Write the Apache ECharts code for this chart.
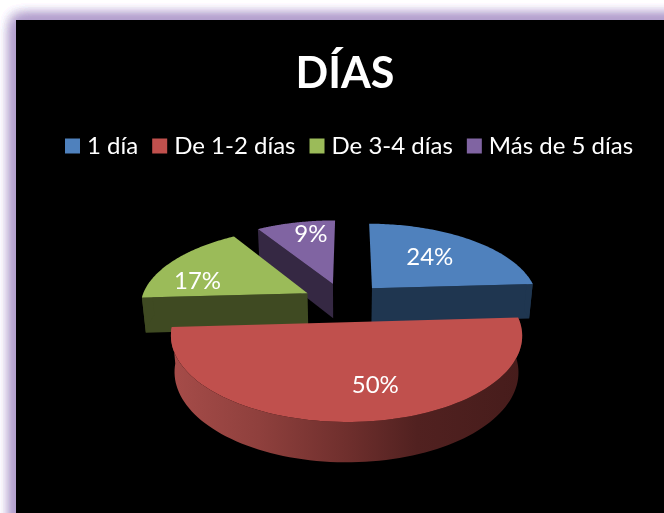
<!DOCTYPE html>
<html><head><meta charset="utf-8">
<style>html,body{margin:0;padding:0;background:#fff}#c{width:664px;height:513px}</style>
<script src="https://cdn.jsdelivr.net/npm/echarts@6/dist/echarts.min.js"></script>
</head><body><div id="c"></div>
<script>
const categories = ['1 día', 'De 1-2 días', 'De 3-4 días', 'Más de 5 días'];
const percentages = [24, 50, 17, 9];
const titleText = 'DÍAS';

const topColors = ['#4f81bd', '#c0504d', '#9bbb59', '#8064a2'];
const wallColors = ['#1f3650', '#4f2020', '#3f4a22', '#352843'];
const FONT = 'Lato, "Open Sans", sans-serif';
const view = {cx: 344, cy: 302, Rx: 167, Ry: 78, depth: 36, persp: 0.15, persZ: 0.02, explode: 0.25, startDeg: 0.3};
const labelReach = [0.592, 0.69, 0.708, 0.774];
const labelTurnDeg = [-2.3, -9, -14.6, 4.0];
const paintOrder = [3, 0, 2, 1];

function project(u, v, z) {
  const s = 1 / (1 - view.persp * v + view.persZ * z);
  return [view.cx + view.Rx * u * s, view.cy + (view.Ry * v + view.depth * z) * s];
}
const total = percentages.reduce((a, b) => a + b, 0);
function sliceAngles(i) {
  let a = view.startDeg;
  for (let k = 0; k < i; k++) a += percentages[k] / total * 360;
  return [a, a + percentages[i] / total * 360];
}
const rad = d => d * Math.PI / 180;
function buildSlice(i) {
  const [a0, a1] = sliceAngles(i);
  const mid = rad((a0 + a1) / 2);
  const u0 = view.explode * Math.sin(mid), v0 = -view.explode * Math.cos(mid);
  const rim = (deg, z) => project(u0 + Math.sin(rad(deg)), v0 - Math.cos(rad(deg)), z);
  const apex = z => project(u0, v0, z);
  const children = [];
  const face = (deg) => ({type: 'polygon', shape: {points: [apex(0), rim(deg, 0), rim(deg, 1), apex(1)]},
    style: {fill: wallColors[i]}, silent: true});
  if (Math.sin(rad(a0)) < -0.02) children.push(face(a0));
  if (Math.sin(rad(a1)) > 0.02 && a1 < 180) children.push(face(a1));
  const w0 = Math.max(a0, 80), w1 = Math.min(a1, 280);
  if (w1 > w0) {
    const top = [], bottom = [];
    for (let d = w0; d <= w1 + 1e-6; d += (w1 - w0) / 90) { top.push(rim(d, 0)); bottom.unshift(rim(d, 1)); }
    const big = percentages[i] === Math.max(...percentages);
    children.push({type: 'polygon', shape: {points: top.concat(bottom)}, silent: true,
      style: {fill: big ? new echarts.graphic.LinearGradient(0, 0, 1, 0, [
        {offset: 0, color: '#a64c49'}, {offset: 0.25, color: '#8f403d'}, {offset: 0.5, color: '#6f2f2d'},
        {offset: 0.7, color: '#512120'}, {offset: 1, color: '#461c1b'}]) : wallColors[i]}});
  }
  const pts = [apex(0)];
  for (let d = a0; d <= a1 + 1e-6; d += (a1 - a0) / 90) pts.push(rim(d, 0));
  children.push({type: 'polygon', shape: {points: pts}, style: {fill: topColors[i]}, silent: true});
  const ang = rad((a0 + a1) / 2 + labelTurnDeg[i]);
  const lp = project(u0 + labelReach[i] * Math.sin(ang), v0 - labelReach[i] * Math.cos(ang), 0);
  children.push({type: 'text', silent: true, z2: 10, style: {text: percentages[i] + '%', x: lp[0], y: lp[1],
    fill: '#fff', font: '24px ' + FONT, align: 'center', verticalAlign: 'middle'}});
  return {type: 'group', children};
}

const chart = echarts.init(document.getElementById('c'), null, {renderer: 'canvas'});
chart.setOption({
  animation: false,
  backgroundColor: '#fff',
  graphic: [1, 2, 3, 4, 5, 6].map(() => ({type: 'rect', z: 0, silent: true, shape: {x: 16, y: 20, width: 800, height: 700},
    style: {fill: '#000', shadowBlur: 14, shadowColor: '#b3a0ce'}})),
  title: {text: titleText, left: 340, top: 48, textAlign: 'center',
    textStyle: {color: '#fff', fontFamily: FONT, fontWeight: 'bold', fontSize: 43}},
  legend: {left: 60, top: 129, itemWidth: 15, itemHeight: 15, itemGap: 14, data: categories, icon: 'rect',
    selectedMode: false, textStyle: {color: '#fff', fontFamily: FONT, fontSize: 24, padding: [0, 0, 0, 2]}},
  series: paintOrder.map(i => ({
    type: 'custom', name: categories[i], coordinateSystem: 'none', itemStyle: {color: topColors[i]},
    data: [[percentages[i]]], renderItem: () => buildSlice(i)
  }))
});
</script></body></html>
